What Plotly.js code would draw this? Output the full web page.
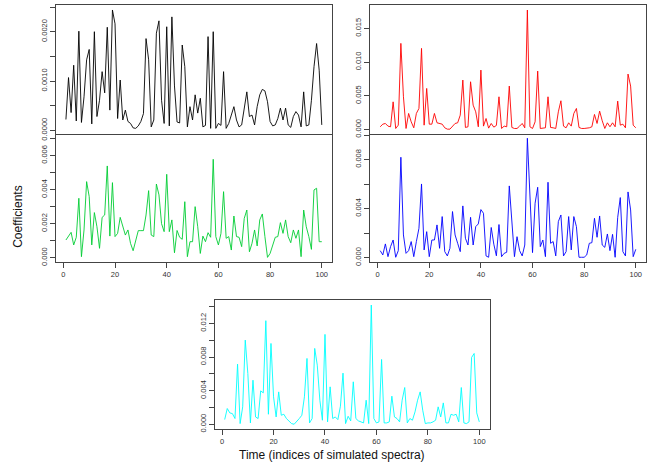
<!DOCTYPE html>
<html>
<head>
<meta charset="utf-8">
<script src="https://cdn.plot.ly/plotly-3.0.1.min.js"></script>
<style>
html,body{margin:0;padding:0;background:#fff;}
#chart{width:664px;height:466px;}
</style>
</head>
<body>
<div id="chart"></div>
<script>
// Time index (indices of simulated spectra)
const timeIdx = Array.from({length: 100}, (_, k) => k + 1);

// Coefficient values, in units of 1e-3
const UNIT = 1e-3;
const coefBlack = [
0.22,1.07,0.36,1.32,0.19,2.01,0.16,0.68,1.43,1.64,
0.13,2.00,0.28,0.61,1.19,0.76,2.09,0.41,2.44,2.16,
0.24,1.02,0.21,0.41,0.18,0.14,0.05,0.04,0.09,0.18,
0.34,1.86,1.43,0.07,0.21,1.97,2.22,0.61,0.14,2.10,
0.09,2.30,0.90,0.17,0.15,1.73,1.29,0.07,0.48,0.21,
0.72,0.35,0.65,0.07,0.10,1.90,0.04,2.00,0.04,0.14,
0.10,1.19,0.04,0.14,0.31,0.48,0.21,0.07,0.11,0.41,
0.78,0.28,0.31,0.11,0.48,0.72,0.83,0.80,0.58,0.18,
0.09,0.11,0.24,0.45,0.21,0.45,0.11,0.06,0.28,0.38,
0.31,0.07,0.78,0.09,0.11,0.61,1.29,1.76,1.22,0.11];
const coefRed = [
0.40,0.79,0.89,0.50,0.40,4.10,0.15,0.64,12.77,4.85,
0.15,2.38,1.14,0.25,2.38,3.12,12.03,0.64,6.09,0.79,
0.79,2.38,0.99,0.89,0.79,0.25,0.05,0.05,0.50,0.89,
0.99,2.13,7.33,0.30,0.40,7.08,3.61,2.62,0.40,8.81,
0.50,1.63,0.20,0.89,0.35,0.60,4.85,0.15,0.50,0.40,
6.44,0.30,0.15,0.15,0.50,0.89,0.25,17.72,0.40,0.15,
1.14,8.66,0.15,0.25,0.25,4.85,0.30,0.25,0.15,2.62,
4.26,0.50,0.25,0.99,0.50,2.38,3.12,0.30,0.15,0.15,
0.15,0.25,0.40,2.23,0.89,2.72,1.29,0.15,0.99,0.40,
0.99,0.40,4.21,0.64,0.79,0.25,8.22,6.44,0.64,0.25];
const coefGreen = [
1.04,1.24,1.49,0.75,1.20,3.49,0.06,1.63,4.47,3.59,
0.75,2.65,1.82,0.55,2.37,2.51,5.39,1.27,4.41,1.24,
1.43,2.37,1.78,1.33,1.63,0.84,0.41,1.04,1.59,1.59,
1.59,2.51,3.94,1.33,1.24,4.33,3.69,2.00,1.53,4.90,
1.53,2.22,0.29,1.60,1.20,1.08,3.29,0.06,0.94,0.94,
3.00,1.82,0.25,1.27,0.94,1.47,1.20,5.78,1.24,0.75,
1.43,3.88,1.14,1.24,0.45,2.45,1.24,1.20,0.65,2.31,
2.80,0.35,0.84,1.63,0.69,2.22,2.57,1.24,0.02,0.25,
0.75,1.20,1.24,2.06,1.43,2.22,1.24,0.88,1.63,1.14,
1.63,0.06,2.80,1.82,1.24,0.49,3.98,4.08,0.94,0.94];
const coefBlue = [
0.57,0.22,1.12,0.08,0.90,1.44,0.03,0.57,8.19,1.85,
0.35,0.57,1.31,0.08,1.31,2.39,6.01,0.63,2.12,0.08,
1.44,1.44,2.67,0.76,3.35,0.49,0.14,0.76,3.76,1.85,
1.17,0.49,4.22,1.58,1.03,3.29,1.03,2.53,2.75,3.92,
3.62,0.14,0.03,2.46,1.10,0.15,2.70,0.08,0.35,0.44,
5.85,2.53,0.08,1.71,0.57,0.14,1.03,9.74,4.71,0.41,
4.44,5.74,0.90,1.44,0.08,6.15,1.17,1.31,0.14,2.94,
3.48,0.14,0.49,3.35,0.63,3.35,2.53,0.03,0.03,0.03,
0.22,1.17,1.22,3.21,1.66,3.40,1.03,0.84,1.93,0.57,
1.90,0.03,3.29,4.90,0.49,0.14,5.36,3.89,0.08,0.68];
const coefCyan = [
0.56,1.87,1.35,1.27,0.68,7.15,0.08,2.07,10.01,6.04,
0.16,5.24,0.87,0.68,3.97,3.73,12.32,1.19,9.61,3.26,
0.87,3.85,1.07,1.19,0.68,0.40,0.08,0.00,0.28,0.68,
1.07,3.26,7.83,0.16,0.68,9.02,7.03,2.86,0.48,10.69,
0.28,4.45,0.68,0.87,0.55,2.15,6.08,0.08,0.95,0.40,
5.05,0.68,0.40,0.28,0.16,2.86,0.08,14.18,0.68,0.16,
0.28,7.71,0.16,0.16,0.28,3.34,0.87,0.68,0.28,2.86,
4.37,0.16,0.68,0.48,1.47,2.86,3.85,1.67,0.08,0.16,
0.16,0.28,0.48,2.07,0.87,2.54,0.16,0.16,1.19,1.07,
1.19,0.28,4.37,0.16,0.08,0.28,7.95,8.42,1.35,0.28];

// Tick values and labels
const xTickVals = [0, 20, 40, 60, 80, 100];
const xTickText = ["0", "20", "40", "60", "80", "100"];
const yTickValsBlack = [0, 0.0005, 0.001, 0.0015, 0.002, 0.0025];
const yTickTextBlack = ["0.0000", "", "0.0010", "", "0.0020", ""];
const yTickValsRed = [0, 0.005, 0.010, 0.015];
const yTickTextRed = ["0.000", "0.005", "0.010", "0.015"];
const yTickValsGreen = [0, 0.001, 0.002, 0.003, 0.004, 0.005, 0.006, 0.007];
const yTickTextGreen = ["0.000", "", "0.002", "", "0.004", "", "0.006", ""];
const yTickValsBlue = [0, 0.002, 0.004, 0.006, 0.008, 0.010];
const yTickTextBlue = ["0.000", "", "0.004", "", "0.008", ""];
const yTickValsCyan = [0, 0.002, 0.004, 0.006, 0.008, 0.010, 0.012, 0.014];
const yTickTextCyan = ["0.000", "", "0.004", "", "0.008", "", "0.012", ""];

const xLabel = "Time (indices of simulated spectra)";
const yLabel = "Coefficients";

const FONT = "Liberation Sans, Arial, Helvetica, sans-serif";
const W = 664, H = 466;
const fx = p => p / W;
const fy = p => 1 - p / H;

function mk(y, color, xa, ya) {
  return {x: timeIdx, y: y.map(v => v * UNIT), type: 'scatter', mode: 'lines',
    line: {color: color, width: 0.9}, xaxis: xa, yaxis: ya, hoverinfo: 'skip', showlegend: false};
}

const data = [
  mk(coefBlack, '#000000', 'x', 'y'),
  mk(coefRed, '#FF0000', 'x2', 'y2'),
  mk(coefGreen, '#00CD33', 'x3', 'y3'),
  mk(coefBlue, '#0000FF', 'x4', 'y4'),
  mk(coefCyan, '#00FFFF', 'x5', 'y5')
];

const common = {showline: true, mirror: true, linecolor: '#444', linewidth: 1,
  showgrid: false, zeroline: false, ticks: 'outside', ticklen: 5, tickwidth: 1,
  tickcolor: '#444', tickfont: {family: FONT, size: 7.5, color: '#333'}, fixedrange: true};

function xax(dom, anchor, showLabels) {
  return Object.assign({}, common, {domain: dom, anchor: anchor, range: [-2.96, 103.96],
    tickmode: 'array', tickvals: xTickVals, ticktext: xTickText,
    ticks: showLabels ? 'outside' : '', showticklabels: showLabels});
}
function yax(dom, anchor, rng, tv, tt) {
  return Object.assign({}, common, {domain: dom, anchor: anchor, range: rng,
    tickmode: 'array', tickvals: tv, ticktext: tt, tickangle: -90});
}

const xL = [fx(55.7), fx(332)], xR = [fx(370), fx(646)];
const yT = [fy(133.8), fy(5.3)], yM = [fy(262.3), fy(134.8)];
const xB = [fx(214.5), fx(489.5)], yB = [fy(429.3), fy(300)];

const layout = {
  width: W, height: H, margin: {l: 0, r: 0, t: 0, b: 0},
  paper_bgcolor: '#fff', plot_bgcolor: '#fff', font: {family: FONT, color: '#222'},
  xaxis: xax(xL, 'y', false),
  yaxis: yax(yT, 'x', [-0.00007, 0.002535], yTickValsBlack, yTickTextBlack),
  xaxis2: xax(xR, 'y2', false),
  yaxis2: yax(yT, 'x2', [-0.00064, 0.01842], yTickValsRed, yTickTextRed),
  xaxis3: xax(xL, 'y3', true),
  yaxis3: yax(yM, 'x3', [-0.00027, 0.00722], yTickValsGreen, yTickTextGreen),
  xaxis4: xax(xR, 'y4', true),
  yaxis4: yax(yM, 'x4', [-0.00038, 0.01002], yTickValsBlue, yTickTextBlue),
  xaxis5: xax(xB, 'y5', true),
  yaxis5: yax(yB, 'x5', [-0.0006, 0.01478], yTickValsCyan, yTickTextCyan),
  annotations: [
    {text: yLabel, xref: 'paper', yref: 'paper', x: fx(17.3), y: fy(216.5), textangle: -90,
     showarrow: false, xanchor: 'center', yanchor: 'middle', font: {family: FONT, size: 12, color: '#111'}},
    {text: xLabel, xref: 'paper', yref: 'paper', x: fx(331.7), y: fy(455), showarrow: false,
     xanchor: 'center', yanchor: 'middle', font: {family: FONT, size: 12, color: '#111'}}
  ]
};

Plotly.newPlot('chart', data, layout, {displayModeBar: false, staticPlot: true});
</script>
</body>
</html>
